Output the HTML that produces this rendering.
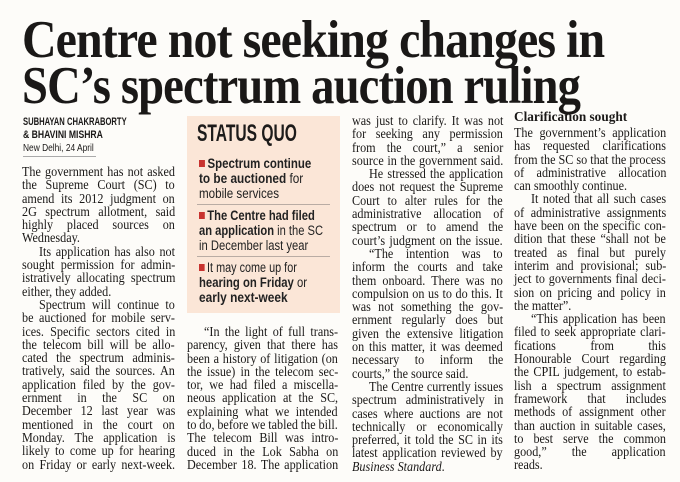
<!DOCTYPE html>
<html><head><meta charset="utf-8">
<style>
html,body{margin:0;padding:0;}
body{width:680px;height:482px;overflow:hidden;background:#fdfcf9;position:relative;color:#1a1817;}
.hl{position:absolute;left:22px;font-family:"Liberation Serif",serif;font-weight:bold;font-size:53px;line-height:53px;white-space:nowrap;transform-origin:0 0;letter-spacing:-1px;}
.col{position:absolute;font-family:"Liberation Serif",serif;font-size:13.5px;line-height:13.3px;}
.col div{white-space:nowrap;transform-origin:0 0;height:13.3px;}
.col div.i{margin-left:17px;}
.by{position:absolute;left:23px;font-family:"Liberation Sans",sans-serif;white-space:nowrap;transform-origin:0 0;}
.box{position:absolute;left:187px;top:116px;width:153px;height:197px;background:#fbe6d7;}
.sq{position:absolute;left:10px;top:5px;font-family:"Liberation Sans",sans-serif;font-weight:bold;font-size:24px;line-height:26px;white-space:nowrap;transform-origin:0 0;color:#1d1b1a;}
.bl{position:absolute;left:12px;font-family:"Liberation Sans",sans-serif;font-size:13.5px;line-height:15px;white-space:nowrap;transform-origin:0 0;color:#222;}
.bl b{font-weight:bold;}
.bul{display:inline-block;width:7px;height:7px;background:#c8332f;margin-right:3px;vertical-align:1px;}
.dv{position:absolute;left:10px;width:133px;height:1px;background:#b9aca4;}
.hd{position:absolute;left:514px;top:109px;font-family:"Liberation Serif",serif;font-weight:bold;font-size:13.5px;line-height:15px;white-space:nowrap;transform-origin:0 0;}
</style></head><body>

<div class="hl" id="h1" data-w="582" style="top:14px">Centre not seeking changes in</div>
<div class="hl" id="h2" data-w="558" style="top:60px">SC’s spectrum auction ruling</div>

<div class="by fit" data-w="104" style="top:116px;font-size:11px;font-weight:bold;">SUBHAYAN CHAKRABORTY</div>
<div class="by fit" data-w="80" style="top:129px;font-size:11px;font-weight:bold;">&amp; BHAVINI MISHRA</div>
<div class="by fit" data-w="71" style="top:142px;font-size:10.5px;">New Delhi, 24 April</div>
<div style="position:absolute;left:23px;top:156px;width:73px;height:1px;background:#aaa;"></div>

<div class="col" data-w="153" style="left:22px;top:165px;">
<div>The government has not asked</div>
<div>the Supreme Court (SC) to</div>
<div>amend its 2012 judgment on</div>
<div>2G spectrum allotment, said</div>
<div>highly placed sources on</div>
<div class="e">Wednesday.</div>
<div class="i">Its application has also not</div>
<div>sought permission for admin-</div>
<div>istratively allocating spectrum</div>
<div class="e">either, they added.</div>
<div class="i">Spectrum will continue to</div>
<div>be auctioned for mobile serv-</div>
<div>ices. Specific sectors cited in</div>
<div>the telecom bill will be allo-</div>
<div>cated the spectrum adminis-</div>
<div>tratively, said the sources. An</div>
<div>application filed by the gov-</div>
<div>ernment in the SC on</div>
<div>December 12 last year was</div>
<div>mentioned in the court on</div>
<div>Monday. The application is</div>
<div>likely to come up for hearing</div>
<div>on Friday or early next-week.</div>
</div>

<div class="box">
<div class="sq fit" data-w="100">STATUS QUO</div>
<div class="bl fit" data-w="112" style="top:40px"><span class="bul"></span><b>Spectrum continue</b></div>
<div class="bl fit" data-w="104" style="top:55px"><b>to be auctioned</b> for</div>
<div class="bl fit" data-w="80" style="top:70px">mobile services</div>
<div class="dv" style="top:88px"></div>
<div class="bl fit" data-w="116" style="top:92px"><span class="bul"></span><b>The Centre had filed</b></div>
<div class="bl fit" data-w="124" style="top:107px"><b>an application</b> in the SC</div>
<div class="bl fit" data-w="109" style="top:122px">in December last year</div>
<div class="dv" style="top:140px"></div>
<div class="bl fit" data-w="98" style="top:144px"><span class="bul"></span>It may come up for</div>
<div class="bl fit" data-w="108" style="top:159px"><b>hearing on Friday</b> or</div>
<div class="bl fit" data-w="89" style="top:174px"><b>early next-week</b></div>
</div>

<div class="col" data-w="151" style="left:187px;top:325px;">
<div class="i">“In the light of full trans-</div>
<div>parency, given that there has</div>
<div>been a history of litigation (on</div>
<div>the issue) in the telecom sec-</div>
<div>tor, we had filed a miscella-</div>
<div>neous application at the SC,</div>
<div>explaining what we intended</div>
<div>to do, before we tabled the bill.</div>
<div>The telecom Bill was intro-</div>
<div>duced in the Lok Sabha on</div>
<div>December 18. The application</div>
</div>

<div class="col" data-w="151" style="left:352px;top:114px;">
<div>was just to clarify. It was not</div>
<div>for seeking any permission</div>
<div>from the court,” a senior</div>
<div>source in the government said.</div>
<div class="i">He stressed the application</div>
<div>does not request the Supreme</div>
<div>Court to alter rules for the</div>
<div>administrative allocation of</div>
<div>spectrum or to amend the</div>
<div>court’s judgment on the issue.</div>
<div class="i">“The intention was to</div>
<div>inform the courts and take</div>
<div>them onboard. There was no</div>
<div>compulsion on us to do this. It</div>
<div>was not something the gov-</div>
<div>ernment regularly does but</div>
<div>given the extensive litigation</div>
<div>on this matter, it was deemed</div>
<div>necessary to inform the</div>
<div class="e">courts,” the source said.</div>
<div class="i">The Centre currently issues</div>
<div>spectrum administratively in</div>
<div>cases where auctions are not</div>
<div>technically or economically</div>
<div>preferred, it told the SC in its</div>
<div>latest application reviewed by</div>
<div class="e"><i>Business Standard</i>.</div>
</div>

<div class="hd fit" data-w="113">Clarification sought</div>
<div class="col" data-w="152" style="left:514px;top:126px;">
<div>The government’s application</div>
<div>has requested clarifications</div>
<div>from the SC so that the process</div>
<div>of administrative allocation</div>
<div class="e">can smoothly continue.</div>
<div class="i">It noted that all such cases</div>
<div>of administrative assignments</div>
<div>have been on the specific con-</div>
<div>dition that these “shall not be</div>
<div>treated as final but purely</div>
<div>interim and provisional; sub-</div>
<div>ject to governments final deci-</div>
<div>sion on pricing and policy in</div>
<div class="e">the matter”.</div>
<div class="i">“This application has been</div>
<div>filed to seek appropriate clari-</div>
<div>fications from this</div>
<div>Honourable Court regarding</div>
<div>the CPIL judgement, to estab-</div>
<div>lish a spectrum assignment</div>
<div>framework that includes</div>
<div>methods of assignment other</div>
<div>than auction in suitable cases,</div>
<div>to best serve the common</div>
<div>good,” the application</div>
<div class="e">reads.</div>
</div>

<script>
function fitW(el,target){
  el.style.width='max-content';
  var w=el.offsetWidth;
  el.style.transform='scaleX('+(target/w)+')';
}
document.querySelectorAll('.hl,.fit').forEach(function(el){fitW(el,+el.dataset.w);});
document.querySelectorAll('.col').forEach(function(col){
  var cw=+col.dataset.w;
  col.querySelectorAll('div').forEach(function(el){
    var target=cw-(el.classList.contains('i')?17:0);
    el.style.width='max-content';
    var w=el.offsetWidth;
    var n=(el.textContent.trim().match(/ +/g)||[]).length;
    var s=0.9;
    if(el.classList.contains('e')){
      if(w*s>target) s=target/w;
      el.style.transform='scaleX('+s+')';
      return;
    }
    var extra=0;
    if(!n){s=target/w;}
    else{
      extra=(target/s-w)/n;
      if(extra<-1){extra=-1;s=target/(w-1*n);}
    }
    el.style.wordSpacing=extra+'px';
    el.style.transform='scaleX('+s+')';
  });
});
</script>
</body></html>
